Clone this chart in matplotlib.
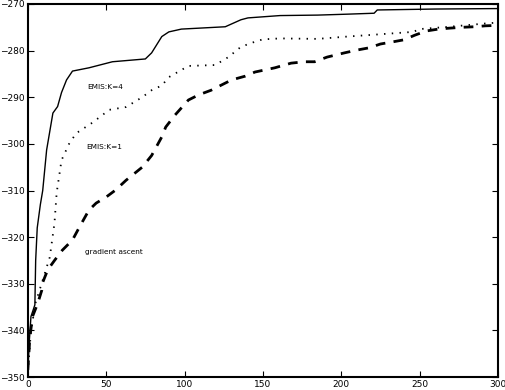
import matplotlib

matplotlib.use("Agg")
import matplotlib.pyplot as plt

# EMIS K=4 (solid)
k4_x = [0, 1, 2, 4, 4.5, 5, 6, 8, 9.5, 12, 16, 19, 21.5, 24.7, 28.5, 39, 54, 75,
        79, 85.5, 90, 98, 126, 136, 140.5, 161, 185, 204, 221, 223, 260, 300]
k4_y = [-349, -342, -337, -335, -334.5, -325, -318, -313, -310, -301.3, -293.4,
        -292, -289, -286.3, -284.4, -283.7, -282.4, -281.8, -280.5, -277, -276,
        -275.4, -274.9, -273.4, -273, -272.5, -272.4, -272.2, -272, -271.3,
        -271.1, -271]

# EMIS K=1 (dotted)
k1_x = [0, 2, 5, 9.5, 14, 17, 18.4, 21.5, 26.6, 31, 41, 52, 62.7, 73, 79, 85.5,
        90, 102.5, 119.6, 128, 136, 145, 150, 161, 185, 204, 221, 246, 250, 269,
        292, 300]
k1_y = [-349, -340, -334, -329.2, -324.3, -317, -310.5, -303.5, -299.8, -297.7,
        -295.5, -292.7, -292.1, -290, -288.5, -287.5, -285.7, -283.3, -283.1,
        -281.4, -279.2, -278.1, -277.6, -277.4, -277.5, -277, -276.6, -276,
        -275.4, -274.9, -274.2, -274]

# gradient ascent (dashed)
ga_x = [0, 1.3, 3, 6.3, 8.9, 9.5, 12.7, 17, 22, 28.5, 33, 36, 39, 43.6, 50, 56,
        62.7, 73, 79, 85.5, 88, 94, 102.5, 109, 117, 130, 138.6, 145, 157.6, 168,
        176.5, 183, 191, 202, 210, 218, 225, 233.5, 240, 247, 254.4, 262, 269,
        278, 285, 292, 300]
ga_y = [-348.5, -341.5, -337, -334.2, -331.4, -329.7, -327, -325, -322.8, -320.6,
        -317.8, -316, -314.2, -312.7, -311.4, -309.9, -307.8, -305, -302.5,
        -298.5, -296.4, -293.8, -290.6, -289.5, -288.5, -286.3, -285.5, -284.6,
        -283.7, -282.7, -282.4, -282.4, -281.4, -280.5, -279.9, -279.4, -278.6,
        -278.1, -277.7, -276.7, -275.8, -275.4, -275.2, -275, -274.9, -274.7,
        -274.6]

labels = ["EMIS:K=4", "EMIS:K=1", "gradient ascent"]
label_pos = [(38, -287.8), (37.5, -300.6), (36.5, -323.2)]

x_ticks = [0, 50, 100, 150, 200, 250, 300]
y_ticks = [-350, -340, -330, -320, -310, -300, -290, -280, -270]

fig = plt.figure(figsize=(5.06, 3.9), dpi=100)
ax = fig.add_axes([0.055, 0.033, 0.929, 0.957])

ax.plot(k4_x, k4_y, color="black", lw=1.0, ls="-")
ax.plot(k1_x, k1_y, color="black", lw=1.3, ls=(0, (0.8, 3.5)))
ax.plot(ga_x, ga_y, color="black", lw=2.0, ls=(0, (3.5, 3)))

for txt, (tx, ty) in zip(labels, label_pos):
    ax.text(tx, ty, txt, fontsize=5.3, va="center", ha="left")

ax.set_xlim(0, 300)
ax.set_ylim(-350, -270)
ax.set_xticks(x_ticks)
ax.set_yticks(y_ticks)
ax.tick_params(direction="in", top=True, right=True, labelsize=6.5, length=4,
               pad=2)
for sp in ax.spines.values():
    sp.set_linewidth(1.5)

fig.savefig("out.png", dpi=100)
